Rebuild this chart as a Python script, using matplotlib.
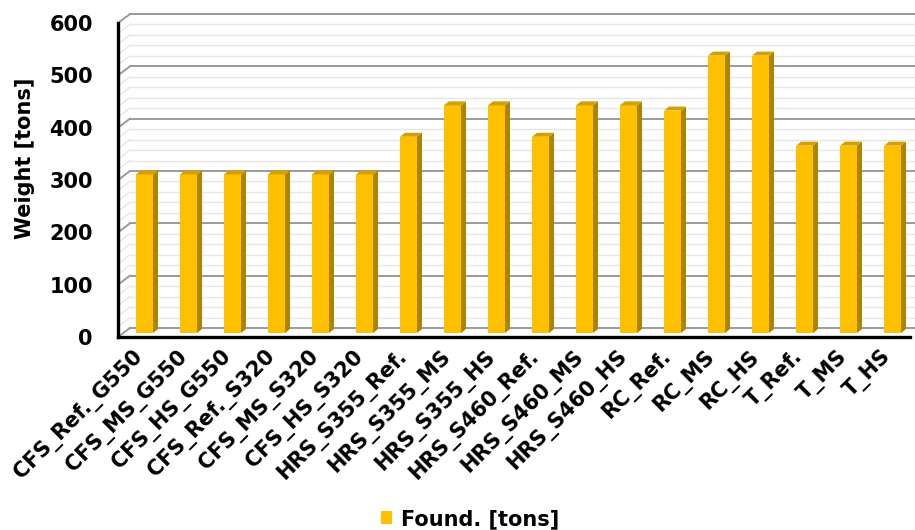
import numpy as np
import matplotlib.pyplot as plt
from matplotlib.patches import Polygon

plt.rcParams['font.family'] = ['DejaVu Sans']
plt.rcParams['font.weight'] = 'bold'

# Données
categories = ["CFS_Ref._G550", "CFS_MS_G550", "CFS_HS_G550",
              "CFS_Ref._S320", "CFS_MS_S320", "CFS_HS_S320",
              "HRS_S355_Ref.", "HRS_S355_MS", "HRS_S355_HS",
              "HRS_S460_Ref.", "HRS_S460_MS", "HRS_S460_HS",
              "RC_Ref.", "RC_MS", "RC_HS",
              "T_Ref.", "T_MS", "T_HS"]
weights = [303, 303, 303, 303, 303, 303,
           375, 435, 435, 375, 435, 435,
           425, 530, 530, 358, 358, 358]
y_ticks = [0, 100, 200, 300, 400, 500, 600]
series_name = "Found. [tons]"

# Couleurs (style Excel 3D)
c_front = '#FFC000'
c_side = '#AD8400'
c_top = '#D2A000'

W, H = 915, 530
fig = plt.figure(figsize=(W / 100, H / 100), dpi=100)
ax = fig.add_axes([118 / W, (H - 337) / H, 792 / W, 314 / H])
n = len(categories)
ax.set_xlim(-0.5, n - 0.5)
ax.set_ylim(0, 600)

# pixels par unité de données
px_x = 792 / n
px_y = 314 / 600
# profondeur du mur du fond et des barres
wall_dx, wall_dy = 12 / px_x, 9 / px_y
bar_off_x, bar_off_y = 18 / px_x, 4 / px_y
bar_w = 17 / px_x
side_dx, side_dy = 5 / px_x, 4 / px_y

# Quadrillage (mur du fond + mur de gauche)
for v in range(0, 601, 20):
    major = v % 100 == 0
    col = '#9A9A9A' if major else '#E6E6E6'
    lw = 1.4 if major else 1.0
    z = 1.2 if major else 1.0
    ax.plot([-0.5 + wall_dx, n - 0.5 + wall_dx], [v + wall_dy, v + wall_dy],
            color=col, lw=lw, clip_on=False, zorder=z)
    ax.plot([-0.5, -0.5 + wall_dx], [v, v + wall_dy],
            color=col, lw=lw, clip_on=False, zorder=z)

# Barres (face avant + côté + dessus)
x_left = np.arange(n) - 0.5 + bar_off_x
bars = ax.bar(x_left, weights, width=bar_w, bottom=bar_off_y, align='edge',
              color=c_front, zorder=3, label=series_name)
for xl, v in zip(x_left, weights):
    xr = xl + bar_w
    b = bar_off_y
    side = Polygon([(xr, b), (xr, b + v), (xr + side_dx, b + v + side_dy),
                    (xr + side_dx, b + side_dy)], closed=True,
                   facecolor=c_side, edgecolor='none', zorder=3)
    top = Polygon([(xl, b + v), (xr, b + v), (xr + side_dx, b + v + side_dy),
                   (xl + side_dx, b + v + side_dy)], closed=True,
                  facecolor=c_top, edgecolor='none', zorder=3)
    ax.add_patch(side)
    ax.add_patch(top)

# Axes
for s in ['top', 'right']:
    ax.spines[s].set_visible(False)
for s in ['left', 'bottom']:
    ax.spines[s].set_linewidth(2.4)
    ax.spines[s].set_color('black')
    ax.spines[s].set_zorder(5)
ax.set_yticks(y_ticks)
ax.set_yticklabels([str(t) for t in y_ticks], fontsize=15, fontweight='bold')
ax.set_xticks(np.arange(n))
ax.set_xticklabels(categories, fontsize=15, fontweight='bold',
                   rotation=45, ha='right', va='center', rotation_mode='anchor')
ax.tick_params(axis='y', length=0, pad=18)
ax.tick_params(axis='x', length=0, pad=12)
ax.patch.set_alpha(0)

fig.text(25 / W, 1 - 158 / H, "Weight [tons]", rotation=90, fontsize=15,
         fontweight='bold', ha='center', va='center')

fig.legend(handles=[bars], labels=[series_name], loc='center',
           bbox_to_anchor=(470 / W, 1 - 519 / H), frameon=False,
           fontsize=15, handlelength=0.55, handleheight=0.55,
           handletextpad=0.4, borderpad=0)

fig.savefig('out.png', dpi=100)
